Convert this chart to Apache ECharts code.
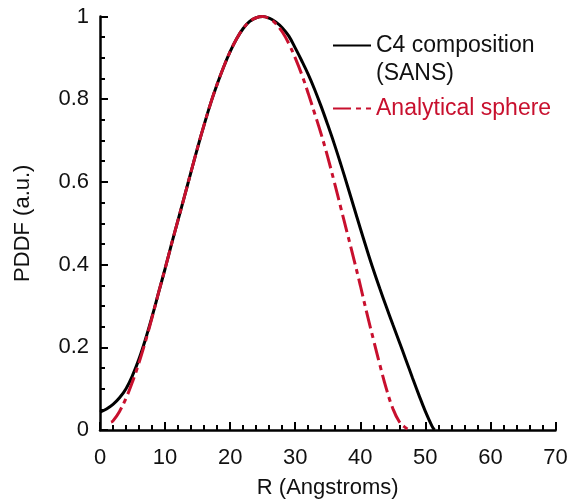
<!DOCTYPE html>
<html>
<head>
<meta charset="utf-8">
<script src="https://cdn.jsdelivr.net/npm/echarts@6/dist/echarts.min.js"></script>
<style>
html,body{margin:0;padding:0;background:#fff;}
#chart{width:571px;height:504px;}
</style>
</head>
<body>
<div id="chart"></div>
<script>
// Data
var sansR = [0,1,2,3,4,5,6,7,8,9,10,11,12,13,14,15,16,17,18,19,20,21,22,23,24,25,26,27,28,29,30,31,32,33,34,35,36,37,38,39,40,41,42,43,44,45,46,47,48,49,50,51,51.4];
var sansP = [0.043,0.051,0.062,0.078,0.100,0.132,0.172,0.220,0.274,0.332,0.390,0.450,0.508,0.566,0.625,0.683,0.738,0.790,0.836,0.878,0.915,0.946,0.971,0.988,0.997,1.000,0.996,0.987,0.973,0.953,0.924,0.893,0.860,0.823,0.782,0.738,0.692,0.643,0.592,0.540,0.488,0.437,0.388,0.342,0.298,0.255,0.213,0.170,0.127,0.085,0.045,0.010,0.000];

var sphereR = [1.7,2,3,4,5,6,7,8,9,10,11,12,13,14,15,16,17,18,19,20,21,22,23,24,25,26,27,28,29,30,31,32,33,34,35,36,37,38,39,40,41,42,43,44,45,46,47,47.5];
var sphereP = [0.019,0.022,0.045,0.077,0.117,0.163,0.215,0.272,0.332,0.390,0.450,0.508,0.566,0.625,0.683,0.738,0.790,0.836,0.878,0.915,0.946,0.971,0.988,0.997,1.000,0.995,0.983,0.963,0.935,0.900,0.860,0.814,0.765,0.715,0.660,0.600,0.538,0.476,0.414,0.350,0.283,0.220,0.158,0.100,0.052,0.020,0.005,0.000];

var xTicks = {min: 0, max: 70, interval: 10};
var yTicks = {min: 0, max: 1, interval: 0.2};

var seriesNames = ['C4 composition (SANS)', 'Analytical sphere'];

function pairs(xs, ys){ return xs.map(function(x,i){ return [x, ys[i]]; }); }

var RED = '#c8102e';
var FONT = 'Liberation Sans, Arial, sans-serif';

var chart = echarts.init(document.getElementById('chart'), null, {renderer:'canvas'});
chart.setOption({
  animation: false,
  backgroundColor: '#ffffff',
  textStyle: {fontFamily: FONT},
  grid: {left: 100, right: 15.5, top: 16.5, bottom: 71, containLabel: false},
  legend: [{
    data: [seriesNames[0]],
    left: 332, top: 34,
    padding: 0,
    itemWidth: 38, itemHeight: 22,
    itemStyle: {opacity: 0},
    formatter: function(){ return 'C4 composition'; },
    textStyle: {fontSize: 23, color: '#111', fontFamily: FONT}
  },{
    data: [seriesNames[1]],
    left: 332, top: 97,
    padding: 0,
    itemWidth: 38, itemHeight: 22,
    itemStyle: {opacity: 0},
    textStyle: {fontSize: 23, color: RED, fontFamily: FONT}
  }],
  graphic: [{
    type: 'text',
    left: 376, top: 62,
    style: {text: '(SANS)', fontSize: 23, fill: '#111', fontFamily: FONT}
  }],
  xAxis: {
    type: 'value',
    min: xTicks.min, max: xTicks.max, interval: xTicks.interval,
    name: 'R (Angstroms)',
    nameLocation: 'middle', nameGap: 47,
    nameTextStyle: {fontSize: 22, color: '#111', fontFamily: FONT},
    axisLine: {show: true, lineStyle: {color: '#000', width: 2.5}},
    axisTick: {show: true, inside: true, length: 8, lineStyle: {color: '#000', width: 2}},
    minorTick: {show: true, splitNumber: 5, length: 5, lineStyle: {color: '#000', width: 2}},
    axisLabel: {fontSize: 22, color: '#111', margin: 17, fontFamily: FONT},
    splitLine: {show: false}
  },
  yAxis: {
    type: 'value',
    min: yTicks.min, max: yTicks.max, interval: yTicks.interval,
    name: 'PDDF (a.u.)',
    nameLocation: 'middle', nameGap: 66, nameRotate: 90,
    nameTextStyle: {fontSize: 22, color: '#111', fontFamily: FONT},
    axisLine: {show: true, lineStyle: {color: '#000', width: 2.5}},
    axisTick: {show: true, inside: true, length: 8, lineStyle: {color: '#000', width: 2}},
    minorTick: {show: true, splitNumber: 4, length: 5, lineStyle: {color: '#000', width: 2}},
    axisLabel: {fontSize: 22, color: '#111', margin: 11, fontFamily: FONT},
    splitLine: {show: false}
  },
  series: [{
    name: seriesNames[0],
    type: 'line',
    data: pairs(sansR, sansP),
    symbol: 'none', showSymbol: false,
    smooth: 0.4,
    lineStyle: {color: '#000', width: 3},
    itemStyle: {color: '#000'},
    z: 2
  },{
    name: seriesNames[1],
    type: 'line',
    data: pairs(sphereR, sphereP),
    symbol: 'none', showSymbol: false,
    smooth: 0.4,
    lineStyle: {color: RED, width: 3, type: [18, 5, 5, 5]},
    itemStyle: {color: RED},
    z: 3
  }]
});
</script>
</body>
</html>
